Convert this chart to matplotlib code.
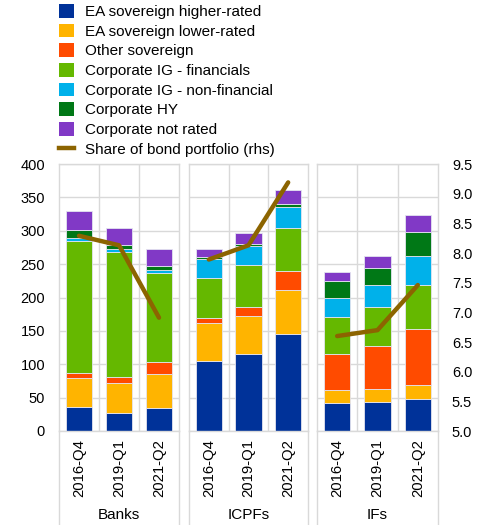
import numpy as np
import matplotlib.pyplot as plt
from matplotlib.patches import Patch
from matplotlib.lines import Line2D

plt.rcParams['font.family'] = ['Liberation Sans', 'DejaVu Sans']

# --- data ---
sectors = ["Banks", "ICPFs", "IFs"]
periods = ["2016-Q4", "2019-Q1", "2021-Q2"]
series = ["EA sovereign higher-rated", "EA sovereign lower-rated", "Other sovereign",
          "Corporate IG - financials", "Corporate IG - non-financial",
          "Corporate HY", "Corporate not rated"]
colors = ["#003299", "#FFB400", "#FF4B00", "#65B800", "#00B1EA", "#007816", "#8139C6"]

# per sector: one list per series, values for the three periods
banks = [[36.5, 27.5, 35], [42.5, 44, 51], [7.5, 9, 18], [198.5, 187, 132],
         [4, 5, 5], [11.5, 5.5, 6], [29.5, 26, 26]]
icpfs = [[105, 115, 146], [57, 58, 65], [8, 12.5, 28], [58.5, 63, 64.5],
         [28.5, 29, 32], [3, 3, 4], [13, 16, 22]]
ifs = [[41.5, 43, 47.5], [20, 19.5, 21.5], [54, 64.5, 83.5], [55, 58.5, 65.5],
       [29.5, 33.5, 44.5], [24.5, 25, 35.5], [13.5, 18, 25.5]]
share_banks = [8.29, 8.13, 6.91]
share_icpfs = [7.89, 8.13, 9.19]
share_ifs = [6.60, 6.70, 7.46]

line_color = "#8C6400"
grid_color = "#D9D9D9"

W, H = 489, 525
fig = plt.figure(figsize=(W / 100, H / 100), dpi=100)

def px_axes(x0, x1, y0, y1):
    return fig.add_axes([x0 / W, 1 - y1 / H, (x1 - x0) / W, (y1 - y0) / H])

panels = [(59, 179), (189, 308), (317, 438)]
top, bottom = 164, 431
data = [banks, icpfs, ifs]
shares = [share_banks, share_icpfs, share_ifs]

x = np.arange(len(periods))
for i, ((x0, x1), name, vals, sh) in enumerate(zip(panels, sectors, data, shares)):
    ax = px_axes(x0, x1, top, bottom)
    base = np.zeros(len(periods))
    for v, c in zip(vals, colors):
        ax.bar(x, v, bottom=base, width=0.66, color=c, edgecolor="#E4E4F0", linewidth=0.6)
        base += np.array(v)
    ax.set_xlim(-0.5, 2.5)
    ax.set_ylim(0, 400)
    ax.set_yticks(np.arange(0, 401, 50))
    ax.set_xticks(x)
    ax.set_xticks([0.5, 1.5], minor=True)
    ax.set_xticklabels(periods, rotation=90, fontsize=10.7)
    ax.tick_params(axis="both", which="both", length=0)
    ax.tick_params(axis="x", pad=6)
    ax.tick_params(axis="y", labelsize=10.5, pad=10)
    ax.set_axisbelow(True)
    ax.grid(axis="y", color=grid_color, linewidth=1)
    ax.grid(axis="x", which="minor", color=grid_color, linewidth=1)
    for s in ax.spines.values():
        s.set_color(grid_color)
        s.set_linewidth(1)
    if i > 0:
        ax.set_yticklabels([])
    ax.text(0.5, -0.315, name, transform=ax.transAxes, ha="center", va="center", fontsize=11)

    ax2 = ax.twinx()
    ax2.plot(x, sh, color=line_color, linewidth=3.2, solid_capstyle="round")
    ax2.set_ylim(5, 9.5)
    ax2.set_yticks(np.arange(5, 9.51, 0.5))
    ax2.tick_params(axis="y", length=0, labelsize=10.5, pad=10)
    ax2.yaxis.set_major_formatter(plt.FormatStrFormatter("%.1f"))
    for s in ax2.spines.values():
        s.set_visible(False)
    if i < 2:
        ax2.set_yticklabels([])

    # frame lines continuing below the plot area
    for xe in (x0, x1):
        fig.add_artist(Line2D([xe / W, xe / W], [0, 1 - bottom / H],
                              transform=fig.transFigure, color=grid_color, linewidth=1))

handles = [Patch(facecolor=c, edgecolor="none") for c in colors]
handles.append(Line2D([], [], color=line_color, linewidth=3.2))
labels = series + ["Share of bond portfolio (rhs)"]
fig.legend(handles, labels, loc="upper left", bbox_to_anchor=(59 / W, 1 - 4 / H),
           frameon=False, fontsize=11, handlelength=1.0, handleheight=1.0,
           labelspacing=0.3, handletextpad=0.7, borderpad=0, borderaxespad=0)

fig.savefig("out.png", dpi=100)
